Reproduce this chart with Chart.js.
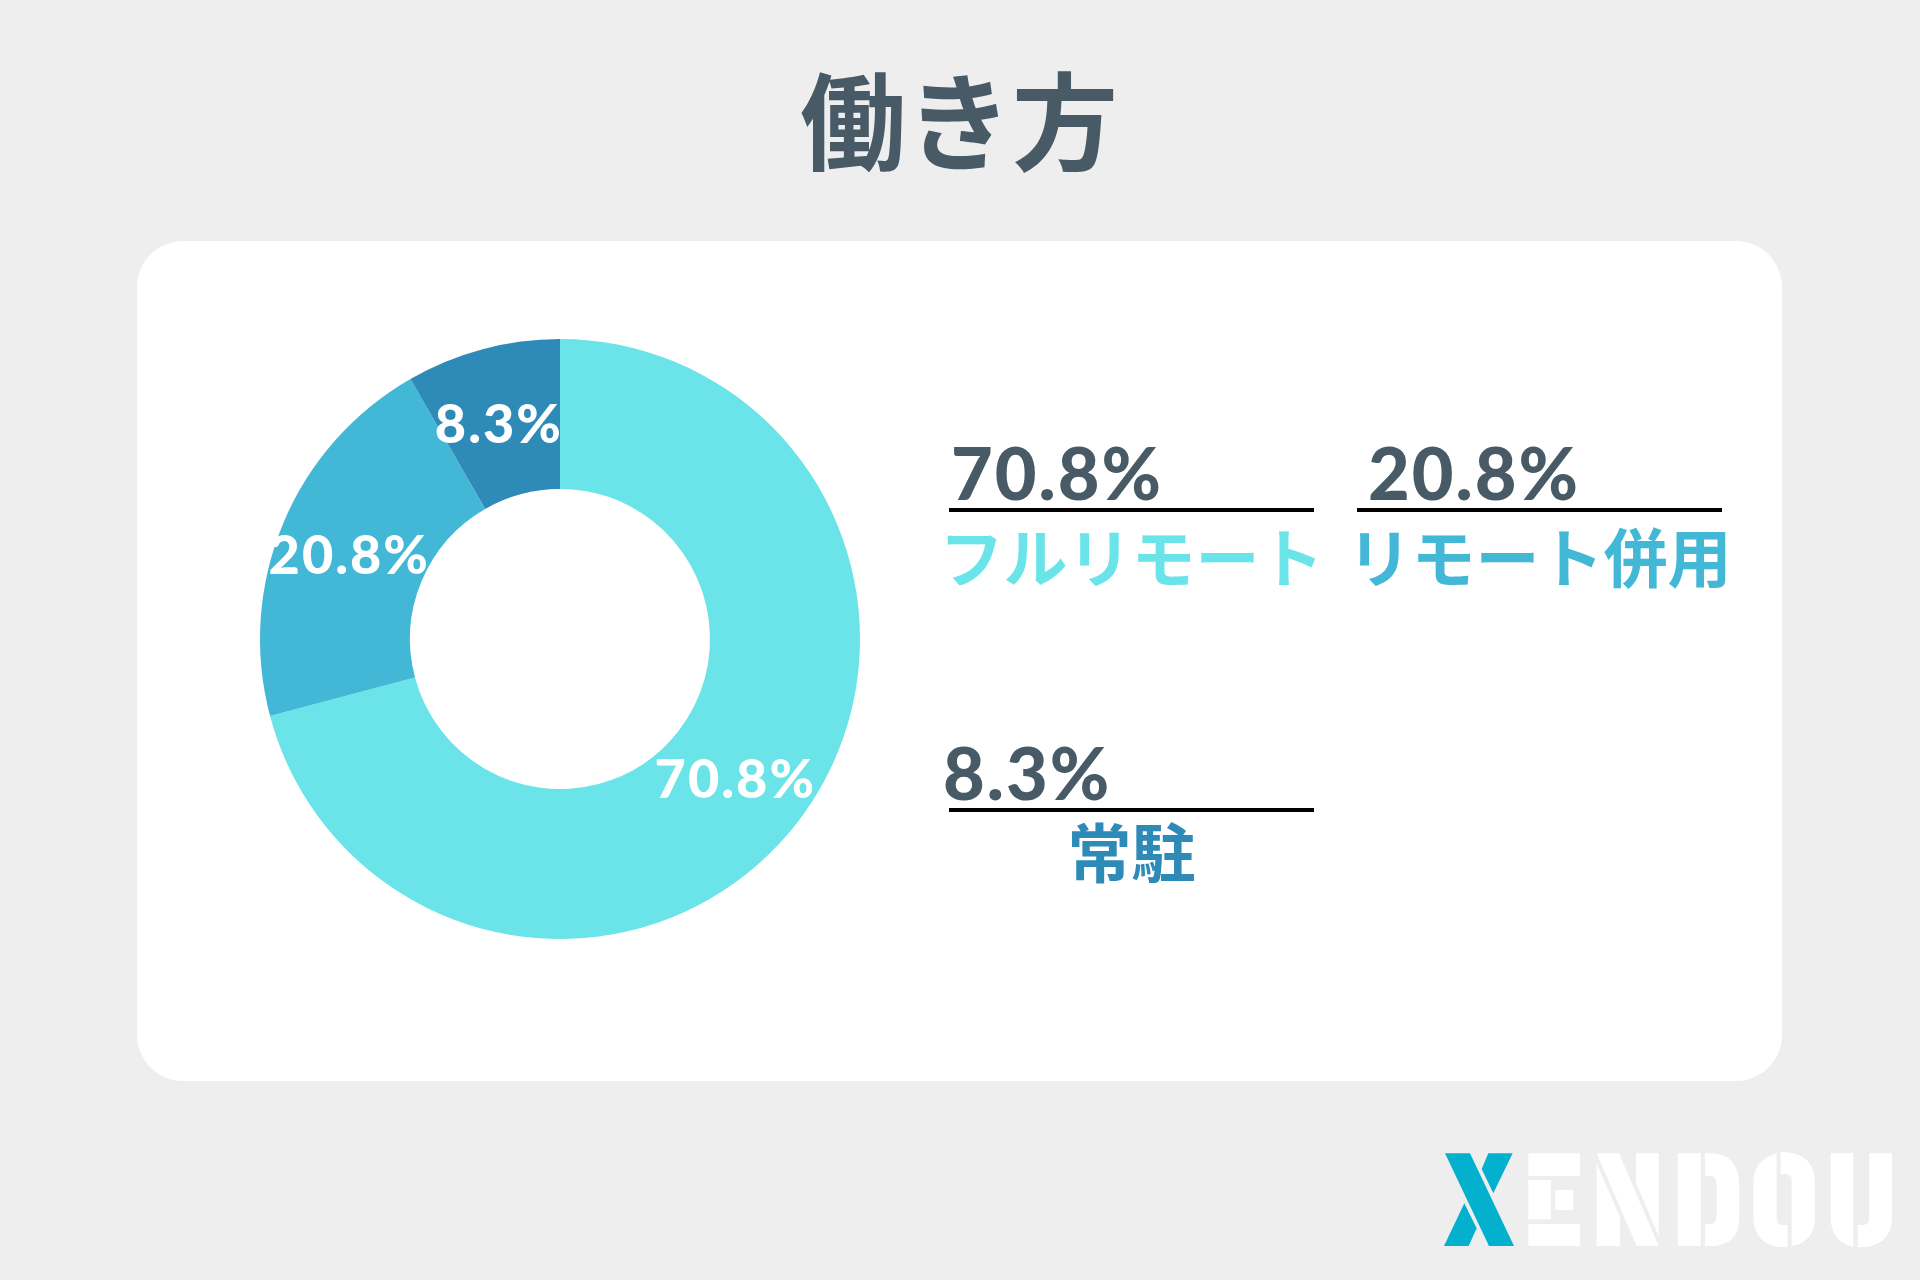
<!DOCTYPE html>
<html lang="ja">
<head>
<meta charset="utf-8">
<title>働き方</title>
<script src="https://cdn.jsdelivr.net/npm/chart.js@4.4.1/dist/chart.umd.min.js"></script>
<style>
  html, body { margin: 0; padding: 0; }
  body { width: 1920px; height: 1280px; background: #eeeeee; position: relative; overflow: hidden; }
  #card { position: absolute; left: 137px; top: 241px; width: 1645px; height: 840px; background: #ffffff; border-radius: 46px; }
  #c { position: absolute; left: 0; top: 0; }
  #logo { position: absolute; left: 1420px; top: 1130px; }
</style>
</head>
<body>
<div id="card"></div>
<canvas id="c" width="1920" height="1280"></canvas>
<svg id="logo" width="500" height="140" viewBox="0 0 1500 420">
  <g fill="#03b1ce">
    <path d="M75,70 L150,70 L282,348 L207,348 Z"/>
    <path d="M205,70 L278,70 L220,190 L185,117 Z"/>
    <path d="M133,220 L170,295 L146,348 L72,348 Z"/>
  </g>
  <g fill="#ffffff">
    <rect x="325" y="70" width="155" height="68"/>
    <rect x="325" y="150" width="68" height="118"/>
    <rect x="406" y="180" width="54" height="60"/>
    <rect x="325" y="282" width="155" height="66"/>
    <path d="M530,100 L600,262 L600,348 L530,348 Z"/>
    <path d="M530,70 L597,70 L716,348 L650,348 Z"/>
    <path d="M648,70 L716,70 L716,318 L648,160 Z"/>
    <rect x="773" y="70" width="69" height="278"/>
    <path d="M855,70 L870,70 Q958,70 958,170 L958,260 Q958,348 870,348 L855,348 L855,282 L870,282 Q890,282 890,255 L890,165 Q890,138 870,138 L855,138 Z"/>
    <path d="M1070,70 Q1000,90 1000,160 L1000,260 Q1000,352 1103,352 L1103,285 L1088,285 Q1070,285 1070,265 Z"/>
    <path d="M1082,66 Q1185,66 1185,160 L1185,260 Q1185,335 1115,348 L1115,152 Q1115,132 1097,132 L1082,132 Z"/>
    <path d="M1232,70 L1300,70 L1300,350 Q1232,335 1232,260 Z"/>
    <path d="M1348,70 L1416,70 L1416,260 Q1416,352 1313,352 L1313,285 L1328,285 Q1348,285 1348,265 Z"/>
  </g>
</svg>
<script>
// data
var chartTitle = '働き方';
var categories = ['フルリモート', 'リモート併用', '常駐'];
var shares = [70.8, 20.8, 8.3];

// styles
var sliceColors = ['#6ae4e8', '#43b8d6', '#2e8bb8'];
var darkText = '#475a66';
var numFont = 'Lato, "Noto Sans", sans-serif';
var jpFont = '"Noto Sans CJK JP", "Noto Sans", sans-serif';

// where each legend block sits (underline left/y, number x shift, label baseline offset)
var legendSlots = [
  { x: 949, y: 508, nx: 2, dy: 74 },
  { x: 1357, y: 508, nx: 11, dy: 74 },
  { x: 949, y: 808, nx: -6, dy: 69 }
];
var legendWidth = 365;

function fmt(v) {
  return v.toFixed(1) + '%';
}

var sliceLabels = {
  id: 'sliceLabels',
  afterDatasetsDraw: function (chart) {
    var ctx = chart.ctx;
    var meta = chart.getDatasetMeta(0);
    ctx.save();
    ctx.fillStyle = '#ffffff';
    ctx.font = '900 54px ' + numFont;
    ctx.letterSpacing = '2px';
    ctx.textAlign = 'center';
    ctx.textBaseline = 'middle';
    meta.data.forEach(function (arc, i) {
      var p = arc.tooltipPosition();
      ctx.fillText(fmt(shares[i]), p.x - 3, p.y + 4);
    });
    ctx.restore();
  }
};

var pageText = {
  id: 'pageText',
  afterDraw: function (chart) {
    var ctx = chart.ctx;
    ctx.save();
    // title
    ctx.fillStyle = darkText;
    ctx.font = 'bold 106px ' + jpFont;
    ctx.textAlign = 'center';
    ctx.textBaseline = 'alphabetic';
    ctx.fillText(chartTitle, 959, 162);

    // legend blocks
    for (var i = 0; i < categories.length; i++) {
      var s = legendSlots[i];
      ctx.fillStyle = darkText;
      ctx.font = '900 72px ' + numFont;
      ctx.letterSpacing = '2px';
      ctx.textAlign = 'left';
      ctx.fillText(fmt(shares[i]), s.x + s.nx, s.y - 8);
      ctx.letterSpacing = '0px';

      ctx.fillStyle = '#000000';
      ctx.fillRect(s.x, s.y, legendWidth, 4);

      ctx.fillStyle = sliceColors[i];
      ctx.font = 'bold 64px ' + jpFont;
      ctx.textAlign = 'center';
      ctx.fillText(categories[i], s.x + legendWidth / 2, s.y + s.dy);
    }
    ctx.restore();
  }
};

new Chart(document.getElementById('c'), {
  type: 'doughnut',
  data: {
    labels: categories,
    datasets: [{
      data: shares,
      backgroundColor: sliceColors,
      borderWidth: 0,
      hoverOffset: 0
    }]
  },
  options: {
    responsive: false,
    animation: false,
    cutout: '50%',
    layout: { padding: { left: 260, top: 339, right: 1060, bottom: 341 } },
    plugins: {
      legend: { display: false },
      tooltip: { enabled: false }
    }
  },
  plugins: [sliceLabels, pageText]
});
</script>
</body>
</html>
